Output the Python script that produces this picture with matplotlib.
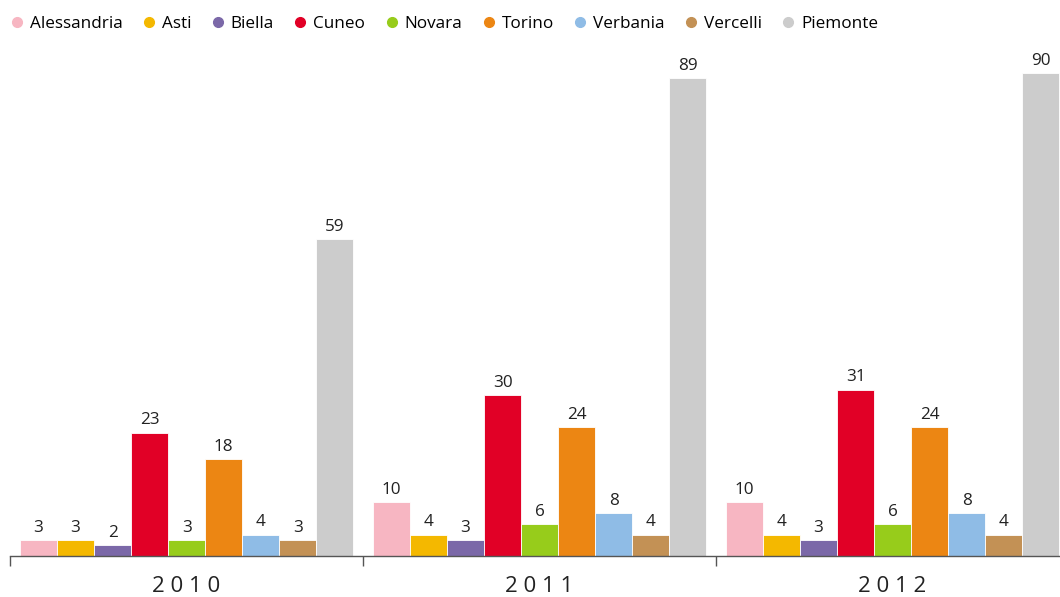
import numpy as np
import matplotlib.pyplot as plt
from matplotlib.lines import Line2D

plt.rcParams['font.family'] = ['Open Sans', 'DejaVu Sans']

# Data
years = ["2010", "2011", "2012"]
provinces = ["Alessandria", "Asti", "Biella", "Cuneo", "Novara",
             "Torino", "Verbania", "Vercelli", "Piemonte"]
colors = ["#F7B6C2", "#F4B800", "#7B68A8", "#E10026", "#97CC1B",
          "#EC8613", "#8FBCE6", "#C39155", "#CCCCCC"]
alessandria = [3, 10, 10]
asti = [3, 4, 4]
biella = [2, 3, 3]
cuneo = [23, 30, 31]
novara = [3, 6, 6]
torino = [18, 24, 24]
verbania = [4, 8, 8]
vercelli = [3, 4, 4]
piemonte = [59, 89, 90]
series = [alessandria, asti, biella, cuneo, novara, torino,
          verbania, vercelli, piemonte]

fig = plt.figure(figsize=(10.6, 5.97), dpi=100)
ax = fig.add_axes([10 / 1060, 41 / 597, 1059 / 1060, 511 / 597])

x = np.arange(len(years))
width = 0.105
for i, (vals, c, name) in enumerate(zip(series, colors, provinces)):
    pos = x - 0.5 + 0.028 + width * (i + 0.5)
    bars = ax.bar(pos, vals, width, color=c, edgecolor="white",
                  linewidth=0.6, label=name)
    for b, v in zip(bars, vals):
        ax.text(b.get_x() + b.get_width() / 2, v + 0.8, str(v),
                ha="center", va="bottom", fontsize=12.3, color="#222222")

ax.set_xlim(-0.5, 2.5)
ax.set_ylim(0, 95.2)
ax.set_yticks([])
ax.set_xticks([-0.5, 0.5, 1.5, 2.5])
ax.set_xticklabels([])
ax.tick_params(axis="x", length=7, width=1, color="#555555", direction="out")
for s in ["top", "right", "left"]:
    ax.spines[s].set_visible(False)
ax.spines["bottom"].set_color("#555555")
ax.spines["bottom"].set_linewidth(1)

for xi, y in zip(x, years):
    ax.text(xi, -3.8, " ".join(y), ha="center", va="top", fontsize=16,
            color="#222222")

handles = [Line2D([], [], marker="o", linestyle="", markersize=7,
                  markerfacecolor=c, markeredgecolor=c) for c in colors]
fig.legend(handles, provinces, loc="center left",
           bbox_to_anchor=(0, 1 - 24 / 597),
           ncol=9, frameon=False, fontsize=12.3, handletextpad=0.15,
           columnspacing=0.95, handlelength=1.2, borderaxespad=0)

fig.savefig("out.png", dpi=100)
